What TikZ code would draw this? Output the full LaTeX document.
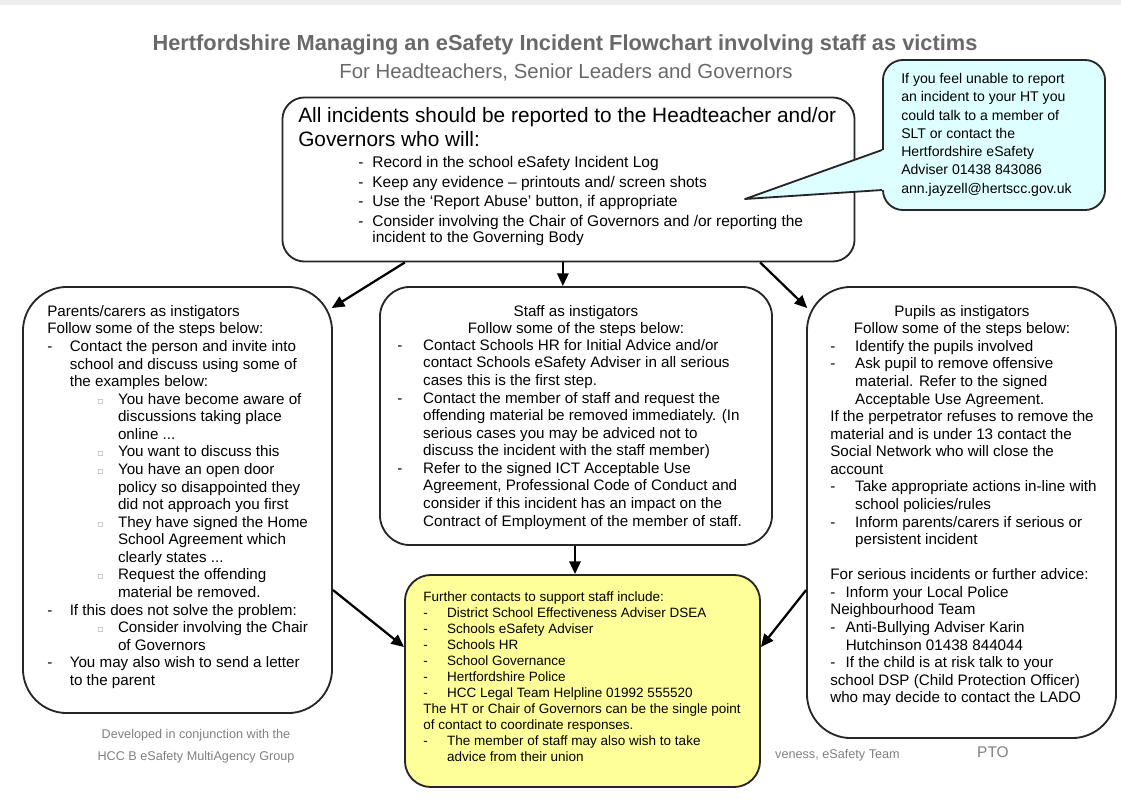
\documentclass[tikz,border=0pt]{standalone}
\usepackage{fontspec}
\setmainfont{Liberation Sans}
\newfontfamily\symfont{DejaVu Sans}
\usetikzlibrary{arrows.meta}
\definecolor{callfill}{RGB}{221,255,255}
\definecolor{notefill}{RGB}{255,255,153}
\definecolor{titlegray}{RGB}{105,105,105}
% list lines
\newcommand{\bul}[2][16pt]{\makebox[#1][l]{-}#2}
\newcommand{\ind}[2][16pt]{\hspace*{#1}#2}
\newcommand{\sq}{{\symfont\color{black!35}\fontsize{7}{7}\selectfont ▫}}
\newcommand{\subl}[1]{\hspace*{35.5pt}\makebox[14.8pt][l]{\sq}#1}
\newcommand{\subc}[1]{\hspace*{50.3pt}#1}
\begin{document}
\begin{tikzpicture}[x=0.025cm,y=-0.025cm,
  box/.style={draw=black!85,line width=1.3pt,inner sep=0},
  txt/.style={anchor=north west,inner sep=0,align=left,font=\fontsize{10.8}{12.5}\selectfont},
  arr/.style={-{Triangle[length=9pt,width=8pt]},line width=1.6pt},
  foot/.style={inner sep=0,text=black!50,font=\fontsize{9}{15.5}\selectfont}]
\useasboundingbox (0,0) rectangle (1121,798);
\fill[black!7] (0,0) rectangle (1121,5);
% heading
\node[font=\bfseries\fontsize{15.5}{18}\selectfont,text=titlegray] (title) at (565,45) {Hertfordshire Managing an eSafety Incident Flowchart involving staff as victims};
\node[font=\fontsize{14.5}{17}\selectfont,text=titlegray] (subtitle) at (566,72) {For Headteachers, Senior Leaders and Governors};

% boxes
\node[box,rounded corners=0.55cm,minimum width=14.3cm,minimum height=4.1cm] (top) at (568.5,179.5) {};
\node[box,fill=callfill,rounded corners=0.5cm,minimum width=5.55cm,minimum height=3.75cm] (call) at (994,135) {};
\node[box,rounded corners=1.1cm,minimum width=7.725cm,minimum height=10.65cm] (left) at (177.5,500) {};
\node[box,rounded corners=0.75cm,minimum width=9.8cm,minimum height=6.45cm] (mid) at (576,416) {};
\node[box,rounded corners=1.1cm,minimum width=7.725cm,minimum height=11.275cm] (right) at (961.5,512.5) {};
\node[foot,anchor=east] (team) at (900,755) {veness, eSafety Team};
\node[box,fill=notefill,rounded corners=0.65cm,minimum width=8.875cm,minimum height=5.3cm] (note) at (582.5,681) {};

% callout pointer
\coordinate (tip) at (745,199);
\fill[callfill] (tip) -- ([yshift=-0.375cm]call.west) -- ([xshift=0.1cm,yshift=-0.375cm]call.west)
  -- ([xshift=0.1cm,yshift=-1.375cm]call.west) -- ([yshift=-1.375cm]call.west) -- cycle;
\draw[black!85,line width=1.3pt,line join=round] ([yshift=-0.375cm]call.west) -- (tip) -- ([yshift=-1.375cm]call.west);

% texts
\node[txt,font=\fontsize{14.8}{17.5}\selectfont] (toptxt) at (298,107) {All incidents should be reported to the Headteacher and/or\\Governors who will:};
\node[txt,font=\fontsize{11}{11}\selectfont] (toplist) at (358,156) {\bul[10pt]{Record in the school eSafety Incident Log}\\[3pt]
\bul[10pt]{Keep any evidence -- printouts and/ screen shots}\\[3pt]
\bul[10pt]{Use the ‘Report Abuse’ button, if appropriate}\\[3pt]
\bul[10pt]{Consider involving the Chair of Governors and /or reporting the}\\
\ind[10pt]{incident to the Governing Body}};
\node[txt,font=\fontsize{10}{13}\selectfont] (calltxt) at (901,73) {If you feel unable to report\\an incident to your HT you\\could talk to a member of\\SLT or contact the\\Hertfordshire eSafety\\Adviser 01438 843086\\ann.jayzell@hertscc.gov.uk};

\node[txt] (lefttxt) at (47,305) {Parents/carers as instigators\\
Follow some of the steps below:\\
\bul{Contact the person and invite into}\\
\ind{school and discuss using some of}\\
\ind{the examples below:}\\
\subl{You have become aware of}\\
\subc{discussions taking place}\\
\subc{online ...}\\
\subl{You want to discuss this}\\
\subl{You have an open door}\\
\subc{policy so disappointed they}\\
\subc{did not approach you first}\\
\subl{They have signed the Home}\\
\subc{School Agreement which}\\
\subc{clearly states ...}\\
\subl{Request the offending}\\
\subc{material be removed.}\\
\bul{If this does not solve the problem:}\\
\subl{Consider involving the Chair}\\
\subc{of Governors}\\
\bul{You may also wish to send a letter}\\
\ind{to the parent}};

\node[txt,anchor=north,align=center] (midhead) at (576,305) {Staff as instigators\\Follow some of the steps below:};
\node[txt] (midtxt) at (397,339) {\bul[18.4pt]{Contact Schools HR for Initial Advice and/or}\\
\ind[18.4pt]{contact Schools eSafety Adviser in all serious}\\
\ind[18.4pt]{cases this is the first step.}\\
\bul[18.4pt]{Contact the member of staff and request the}\\
\ind[18.4pt]{offending material be removed immediately. (In}\\
\ind[18.4pt]{serious cases you may be adviced not to}\\
\ind[18.4pt]{discuss the incident with the staff member)}\\
\bul[18.4pt]{Refer to the signed ICT Acceptable Use}\\
\ind[18.4pt]{Agreement, Professional Code of Conduct and}\\
\ind[18.4pt]{consider if this incident has an impact on the}\\
\ind[18.4pt]{Contract of Employment of the member of staff.}};

\node[txt,anchor=north,align=center] (righthead) at (962,305) {Pupils as instigators\\Follow some of the steps below:};
\node[txt] (righttxt) at (830,340) {\bul[17.7pt]{Identify the pupils involved}\\
\bul[17.7pt]{Ask pupil to remove offensive}\\
\ind[17.7pt]{material. Refer to the signed}\\
\ind[17.7pt]{Acceptable Use Agreement.}\\
If the perpetrator refuses to remove the\\
material and is under 13 contact the\\
Social Network who will close the\\
account\\
\bul[17.7pt]{Take appropriate actions in-line with}\\
\ind[17.7pt]{school policies/rules}\\
\bul[17.7pt]{Inform parents/carers if serious or}\\
\ind[17.7pt]{persistent incident}\\[12.5pt]
For serious incidents or further advice:\\
\bul[11pt]{Inform your Local Police}\\
Neighbourhood Team\\
\bul[11pt]{Anti-Bullying Adviser Karin}\\
\ind[11pt]{Hutchinson 01438 844044}\\
\bul[11pt]{If the child is at risk talk to your}\\
school DSP (Child Protection Officer)\\
who may decide to contact the LADO};

\node[txt,font=\fontsize{9.6}{11.4}\selectfont] (notetxt) at (423,591) {Further contacts to support staff include:\\
\bul[17pt]{District School Effectiveness Adviser DSEA}\\
\bul[17pt]{Schools eSafety Adviser}\\
\bul[17pt]{Schools HR}\\
\bul[17pt]{School Governance}\\
\bul[17pt]{Hertfordshire Police}\\
\bul[17pt]{HCC Legal Team Helpline 01992 555520}\\
The HT or Chair of Governors can be the single point\\
of contact to coordinate responses.\\
\bul[17pt]{The member of staff may also wish to take}\\
\ind[17pt]{advice from their union}};

% footer
\node[foot,align=center] (dev) at (196,746) {Developed in conjunction with the\\HCC B eSafety MultiAgency Group};
\node[foot,font=\fontsize{11}{13}\selectfont] (pto) at (993,752) {PTO};

% arrows
\draw[arr] ([xshift=-4.09cm]top.south) -- ([xshift=-0.03cm,yshift=-0.55cm]left.north east);
\draw[arr] ([xshift=-0.14cm]top.south) -- ([xshift=-0.14cm]top.south |- mid.north);
\draw[arr] ([xshift=4.79cm]top.south) -- ([xshift=0.03cm,yshift=-0.55cm]right.north west);
\draw[arr] ([xshift=-0.025cm]mid.south) -- ([xshift=-0.025cm]mid.south |- note.north);
\draw[arr] ([yshift=-2.25cm]left.east) -- ([yshift=0.85cm]note.west);
\draw[arr] ([yshift=-1.94cm]right.west) -- ([yshift=0.85cm]note.east);
\end{tikzpicture}
\end{document}
